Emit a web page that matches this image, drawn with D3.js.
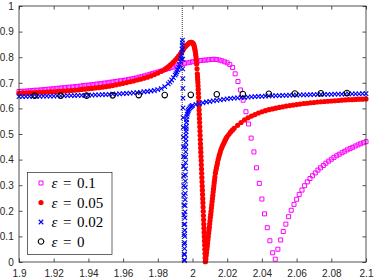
<!DOCTYPE html>
<html><head><meta charset="utf-8">
<script src="https://cdn.jsdelivr.net/npm/d3@7"></script>
<style>body{margin:0;background:#fff}svg{display:block}</style>
</head><body><svg id="c" width="374" height="280"></svg>
<script>
// ---------- data ----------
const xTickValues = [1.9,1.92,1.94,1.96,1.98,2.0,2.02,2.04,2.06,2.08,2.1];
const xTickLabels = ["1.9","1.92","1.94","1.96","1.98","2","2.02","2.04","2.06","2.08","2.1"];
const yTickValues = [0,0.1,0.2,0.3,0.4,0.5,0.6,0.7,0.8,0.9,1];
const yTickLabels = ["0","0.1","0.2","0.3","0.4","0.5","0.6","0.7","0.8","0.9","1"];
const legendValues = ["0.1","0.05","0.02","0"];
const resonanceX = 1.9941;

// eps = 0.1 (magenta squares)
const eps01X = [1.9000,1.9015,1.9031,1.9046,1.9062,1.9077,1.9092,1.9108,1.9123,1.9138,
1.9154,1.9169,1.9185,1.9200,1.9215,1.9231,1.9246,1.9262,1.9277,1.9292,
1.9308,1.9323,1.9338,1.9354,1.9369,1.9385,1.9400,1.9415,1.9431,1.9446,
1.9462,1.9477,1.9492,1.9508,1.9523,1.9538,1.9554,1.9569,1.9585,1.9600,
1.9615,1.9631,1.9646,1.9662,1.9677,1.9692,1.9708,1.9723,1.9738,1.9754,
1.9769,1.9785,1.9800,1.9815,1.9831,1.9846,1.9862,1.9877,1.9892,1.9908,
1.9923,1.9938,1.9954,1.9969,1.9985,2.0000,2.0015,2.0031,2.0046,2.0062,
2.0077,2.0092,2.0108,2.0123,2.0138,2.0154,2.0169,2.0185,2.0200,2.0215,
2.0231,2.0246,2.0262,2.0277,2.0292,2.0308,2.0323,2.0338,2.0354,2.0369,
2.0385,2.0400,2.0415,2.0431,2.0446,2.0462,2.0477,2.0492,2.0508,2.0523,
2.0538,2.0554,2.0569,2.0585,2.0600,2.0615,2.0631,2.0646,2.0662,2.0677,
2.0692,2.0708,2.0723,2.0738,2.0754,2.0769,2.0785,2.0800,2.0815,2.0831,
2.0846,2.0862,2.0877,2.0892,2.0908,2.0923,2.0938,2.0954,2.0969,2.0985,
2.1000];
const eps01Y = [0.666,0.667,0.667,0.668,0.669,0.670,0.671,0.671,0.672,0.673,
0.674,0.675,0.676,0.677,0.678,0.679,0.680,0.681,0.682,0.683,
0.684,0.685,0.686,0.687,0.689,0.690,0.691,0.692,0.693,0.695,
0.696,0.697,0.699,0.700,0.702,0.703,0.705,0.706,0.708,0.709,
0.711,0.713,0.715,0.717,0.719,0.722,0.724,0.727,0.730,0.733,
0.736,0.739,0.742,0.745,0.749,0.753,0.756,0.759,0.762,0.766,
0.770,0.773,0.776,0.778,0.780,0.782,0.784,0.785,0.787,0.788,
0.789,0.790,0.791,0.792,0.791,0.789,0.786,0.782,0.778,0.771,
0.760,0.735,0.705,0.672,0.632,0.587,0.539,0.484,0.430,0.368,
0.307,0.246,0.188,0.134,0.083,0.036,0.011,0.050,0.086,0.119,
0.148,0.177,0.202,0.225,0.245,0.264,0.281,0.298,0.313,0.326,
0.337,0.348,0.359,0.368,0.377,0.386,0.394,0.4015,0.4085,0.415,
0.421,0.427,0.4325,0.438,0.443,0.448,0.453,0.4575,0.462,0.466,
0.470];

// eps = 0.05 (red dots)
const eps005X = [1.900,1.902,1.904,1.906,1.908,1.910,1.912,1.914,1.916,1.918,
1.920,1.922,1.924,1.926,1.928,1.930,1.932,1.934,1.936,1.938,
1.940,1.942,1.944,1.946,1.948,1.950,1.952,1.954,1.956,1.958,
1.960,1.962,1.964,1.966,1.968,1.970,1.972,1.974,1.976,1.978,
1.980,1.982,1.984,1.985,1.986,1.987,1.988,1.989,1.990,1.991,
1.992,1.993,1.994,1.995,1.996,1.997,1.998,1.9985,1.999,1.9995,
2.0000,2.0004,2.0007,2.0010,2.0012,2.0014,2.0016,2.0018,2.0020,2.0022,
2.0024,2.0026,2.0028,2.0029,2.0030,2.0031,2.0032,2.0033,2.0034,2.0035,
2.0036,2.0037,2.0038,2.0039,2.0040,2.0041,2.0042,2.0043,2.0044,2.0045,
2.0046,2.0047,2.0048,2.0049,2.0050,2.0051,2.0052,2.0053,2.0054,2.0055,
2.0056,2.0057,2.0058,2.0059,2.0060,2.0061,2.0062,2.0063,2.0064,2.0065,
2.0066,2.0067,2.0068,2.0069,2.0070,2.0071,2.0072,2.0073,2.0074,2.0075,
2.0077,2.0079,2.0081,2.0083,2.0085,2.0087,2.0089,2.0091,2.0093,2.0095,
2.0097,2.0099,2.0101,2.0103,2.0105,2.0107,2.0109,2.0111,2.0113,2.0115,
2.0117,2.0119,2.0121,2.0123,2.0125,2.0127,2.0129,2.0132,2.0135,2.0138,
2.0141,2.0144,2.0148,2.0152,2.0156,2.0160,2.0165,2.0170,2.0175,2.0180,
2.0185,2.0190,2.0195,2.0200,2.0210,2.0220,2.0230,2.0240,2.0260,2.0280,
2.0300,2.0320,2.0340,2.0360,2.0380,2.0400,2.0420,2.0440,2.0460,2.0480,
2.0500,2.0520,2.0540,2.0560,2.0580,2.0600,2.0620,2.0640,2.0660,2.0680,
2.0700,2.0720,2.0740,2.0760,2.0780,2.0800,2.0820,2.0840,2.0860,2.0880,
2.0900,2.0920,2.0940,2.0960,2.0980,2.1000];
const eps005Y = [0.659,0.660,0.660,0.661,0.661,0.662,0.663,0.663,0.664,0.665,
0.665,0.666,0.667,0.668,0.669,0.670,0.671,0.672,0.674,0.675,
0.677,0.678,0.680,0.681,0.683,0.685,0.687,0.689,0.692,0.695,
0.698,0.701,0.704,0.707,0.711,0.714,0.718,0.722,0.727,0.732,
0.738,0.745,0.752,0.757,0.762,0.768,0.774,0.781,0.788,0.796,
0.804,0.813,0.823,0.833,0.842,0.849,0.855,0.857,0.858,0.858,
0.856,0.853,0.849,0.843,0.837,0.830,0.822,0.812,0.801,0.788,
0.773,0.755,0.735,0.724,0.713,0.701,0.688,0.674,0.659,0.6435,
0.627,0.6105,0.594,0.5775,0.561,0.5445,0.528,0.5115,0.495,0.4785,
0.462,0.4455,0.429,0.4125,0.396,0.3795,0.363,0.3465,0.330,0.3135,
0.297,0.2805,0.264,0.2475,0.231,0.2145,0.198,0.1815,0.165,0.1485,
0.132,0.1155,0.099,0.0825,0.066,0.0495,0.033,0.0165,0.001,0.003,
0.012,0.025,0.037,0.050,0.062,0.074,0.087,0.099,0.112,0.124,
0.136,0.149,0.161,0.174,0.186,0.198,0.211,0.223,0.236,0.248,
0.260,0.273,0.285,0.297,0.309,0.320,0.332,0.347,0.358,0.368,
0.378,0.388,0.400,0.411,0.421,0.430,0.440,0.449,0.457,0.464,
0.471,0.478,0.484,0.490,0.499,0.508,0.515,0.522,0.534,0.545,
0.555,0.563,0.570,0.576,0.582,0.587,0.591,0.595,0.598,0.601,
0.604,0.606,0.609,0.611,0.613,0.615,0.617,0.619,0.620,0.622,
0.623,0.625,0.626,0.627,0.628,0.629,0.630,0.631,0.632,0.633,
0.634,0.634,0.635,0.636,0.636,0.637];

// eps = 0.02 (blue crosses)
const eps002X = [1.900,1.902,1.904,1.906,1.908,1.910,1.912,1.914,1.916,1.918,
1.920,1.922,1.924,1.926,1.928,1.930,1.932,1.934,1.936,1.938,
1.940,1.942,1.944,1.946,1.948,1.950,1.952,1.954,1.956,1.958,
1.960,1.962,1.964,1.966,1.968,1.970,1.972,1.974,1.976,1.978,
1.980,1.982,1.984,1.986,1.987,1.988,1.989,1.990,1.9905,1.991,
1.9915,1.992,1.9925,1.993,1.9933,1.9936,1.9938,1.994,1.9941,1.99415,
1.99420,1.99425,1.99430,1.99435,1.99440,1.99445,1.99450,1.99455,1.99460,1.99465,
1.99470,1.99475,1.99480,1.99485,1.99490,1.99495,1.99500,1.99505,1.99510,1.99515,
1.99520,1.99525,1.99530,1.99533,
1.99536,1.99540,1.99544,1.99548,1.99552,1.99556,1.99560,1.99564,1.99568,1.99572,
1.99576,1.99580,1.99584,1.99588,1.99592,1.99596,1.99600,1.99604,1.99608,1.99612,
1.99616,1.99620,1.99625,1.99630,1.99635,1.99640,1.99650,1.99660,1.99680,1.99700,
1.99730,1.99760,1.99800,1.99850,1.99900,1.99950,2.000,2.002,2.004,2.006,
2.008,2.010,2.012,2.014,2.016,2.018,2.020,2.022,2.024,2.026,
2.028,2.030,2.032,2.034,2.036,2.038,2.040,2.042,2.044,2.046,
2.048,2.050,2.052,2.054,2.056,2.058,2.060,2.062,2.064,2.066,
2.068,2.070,2.072,2.074,2.076,2.078,2.080,2.082,2.084,2.086,
2.088,2.090,2.092,2.094,2.096,2.098,2.100];
const eps002Y = [0.646,0.646,0.646,0.647,0.647,0.647,0.647,0.648,0.648,0.648,
0.648,0.649,0.649,0.649,0.650,0.650,0.650,0.651,0.651,0.651,
0.652,0.652,0.653,0.653,0.654,0.654,0.655,0.656,0.656,0.657,
0.658,0.659,0.660,0.661,0.662,0.663,0.665,0.666,0.668,0.670,
0.673,0.677,0.685,0.696,0.703,0.711,0.720,0.730,0.736,0.743,
0.751,0.760,0.771,0.784,0.794,0.806,0.817,0.832,0.845,0.856,
0.867,0.830,0.792,0.754,0.716,0.678,0.640,0.602,0.564,0.526,
0.488,0.450,0.412,0.374,0.336,0.298,0.260,0.222,0.184,0.146,
0.108,0.070,0.032,0.008,
0.005,0.028,0.052,0.076,0.100,0.124,0.148,0.172,0.196,0.220,
0.244,0.268,0.292,0.316,0.340,0.364,0.388,0.410,0.430,0.449,
0.466,0.481,0.496,0.509,0.520,0.530,0.545,0.556,0.569,0.578,
0.586,0.592,0.597,0.602,0.606,0.609,0.612,0.616,0.619,0.622,
0.625,0.627,0.629,0.631,0.633,0.635,0.637,0.639,0.640,0.641,
0.642,0.643,0.644,0.645,0.646,0.647,0.647,0.648,0.649,0.649,
0.650,0.650,0.651,0.651,0.652,0.652,0.652,0.653,0.653,0.653,
0.654,0.654,0.654,0.655,0.655,0.655,0.655,0.656,0.656,0.656,
0.656,0.657,0.657,0.657,0.657,0.658,0.658];

// eps = 0 (black circles)
const eps0X = [1.909,1.924,1.939,1.954,1.969,1.984,1.999,2.014,2.029,2.044,2.059,2.074,2.089];
const eps0Y = [0.650,0.650,0.650,0.651,0.652,0.652,0.653,0.655,0.656,0.657,0.658,0.659,0.660];

// ---------- layout ----------
const svg = d3.select("#c");
const L = 19, R = 366, T = 6, B = 262;
const x = d3.scaleLinear().domain([1.9, 2.1]).range([L, R]);
const y = d3.scaleLinear().domain([0, 1]).range([B, T]);
const axisColor = "#262626";
const tickFont = "'Liberation Sans', Arial, Helvetica, sans-serif";

svg.append("rect").attr("width", 374).attr("height", 280).attr("fill", "#fff");

const plot = svg.append("g");

function zip(xs, ys) { return xs.map((d, i) => [d, ys[i]]); }

function drawSeries(xs, ys, type, size, fill, stroke, sw) {
  plot.append("g").selectAll("path").data(zip(xs, ys)).join("path")
    .attr("transform", d => `translate(${x(d[0])},${y(d[1])})`)
    .attr("d", d3.symbol().type(type).size(size))
    .attr("fill", fill).attr("stroke", stroke).attr("stroke-width", sw);
}

const styles = [
  {type: d3.symbolSquare, size: 16, fill: "none", stroke: "#ff00ff", sw: 1},
  {type: d3.symbolCircle, size: 21, fill: "#ff0000", stroke: "none", sw: 0},
  {type: d3.symbolTimes, size: 15, fill: "none", stroke: "#0000ff", sw: 1.1},
  {type: d3.symbolCircle, size: 24, fill: "none", stroke: "#000000", sw: 1.1}
];

drawSeries(eps01X, eps01Y, styles[0].type, styles[0].size, styles[0].fill, styles[0].stroke, styles[0].sw);
drawSeries(eps005X, eps005Y, styles[1].type, styles[1].size, styles[1].fill, styles[1].stroke, styles[1].sw);
drawSeries(eps002X, eps002Y, styles[2].type, styles[2].size, styles[2].fill, styles[2].stroke, styles[2].sw);

// dotted resonance line
plot.append("line")
  .attr("x1", x(resonanceX)).attr("x2", x(resonanceX))
  .attr("y1", y(1)).attr("y2", y(0))
  .attr("stroke", "#222").attr("stroke-width", 0.9).attr("stroke-dasharray", "1,1");

drawSeries(eps0X, eps0Y, styles[3].type, styles[3].size, styles[3].fill, styles[3].stroke, styles[3].sw);

// ---------- axes ----------
const tk = 3.5;
const gx = svg.append("g").attr("transform", `translate(0,${B})`)
  .call(d3.axisBottom(x).tickValues(xTickValues).tickFormat((d, i) => xTickLabels[i])
    .tickSizeInner(-tk).tickSizeOuter(0).tickPadding(7.6));
const gxt = svg.append("g").attr("transform", `translate(0,${T})`)
  .call(d3.axisTop(x).tickValues(xTickValues).tickFormat("").tickSizeInner(-tk).tickSizeOuter(0));
const gy = svg.append("g").attr("transform", `translate(${L},0)`)
  .call(d3.axisLeft(y).tickValues(yTickValues).tickFormat((d, i) => yTickLabels[i])
    .tickSizeInner(-tk).tickSizeOuter(0).tickPadding(5.3));
const gyr = svg.append("g").attr("transform", `translate(${R},0)`)
  .call(d3.axisRight(y).tickValues(yTickValues).tickFormat("").tickSizeInner(-tk).tickSizeOuter(0));

[gx, gxt, gy, gyr].forEach(g => {
  g.select(".domain").remove();
  g.selectAll(".tick line").attr("stroke", axisColor).attr("stroke-width", 0.8);
  g.selectAll(".tick text").attr("fill", axisColor).style("font-family", tickFont).style("font-size", "10px");
});

svg.append("rect").attr("x", L).attr("y", T).attr("width", R - L).attr("height", B - T)
  .attr("fill", "none").attr("stroke", axisColor).attr("stroke-width", 0.8);

// ---------- legend ----------
const leg = svg.append("g");
leg.append("rect").attr("x", 27.5).attr("y", 172.5).attr("width", 84.5).attr("height", 82)
  .attr("fill", "#fff").attr("stroke", axisColor).attr("stroke-width", 0.7);
const rowY = [183, 202.5, 222, 241.5];
legendValues.forEach((v, i) => {
  const s = styles[i];
  leg.append("path").attr("transform", `translate(41,${rowY[i]})`)
    .attr("d", d3.symbol().type(s.type).size(s.size))
    .attr("fill", s.fill).attr("stroke", s.stroke).attr("stroke-width", s.sw);
  const t = leg.append("text").attr("y", rowY[i] + 5)
    .style("font-family", "'Liberation Serif', 'DejaVu Serif', serif").style("font-size", "15px").attr("fill", "#000");
  t.append("tspan").attr("x", 51.5).style("font-style", "italic").text("\u03b5");
  t.append("tspan").attr("x", 63).text("=");
  t.append("tspan").attr("x", 77).text(v);
});
</script>
</body></html>
